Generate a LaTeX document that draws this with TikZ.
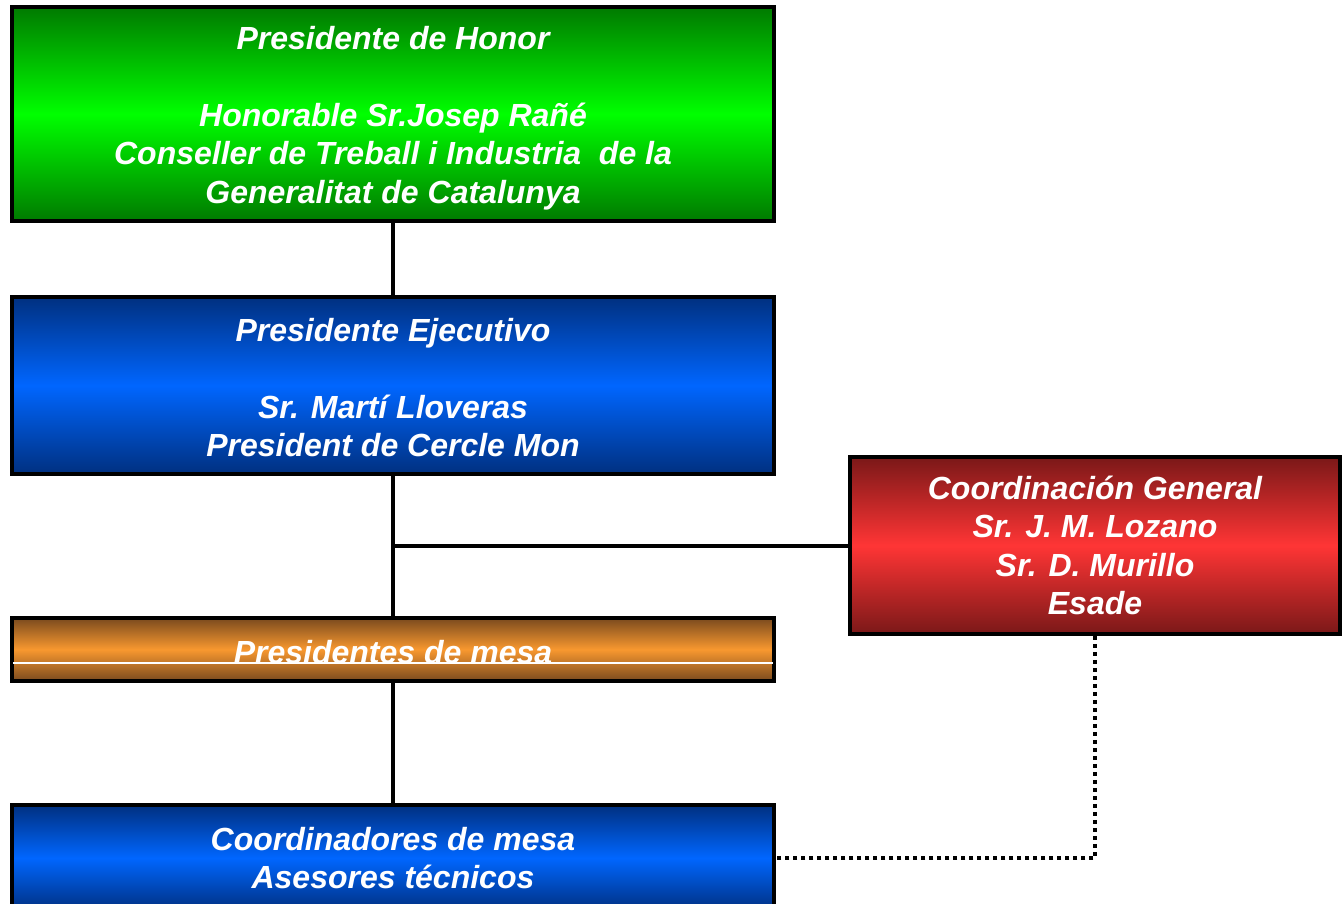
\documentclass[tikz,border=0pt]{standalone}
\usepackage{fontspec}
\setmainfont{Liberation Sans}
\definecolor{gdark}{HTML}{007A00}
\definecolor{gmid}{HTML}{00FF00}
\definecolor{bdark}{HTML}{003080}
\definecolor{bmid}{HTML}{0066FF}
\definecolor{odark}{HTML}{7A4A1E}
\definecolor{omid}{HTML}{F8982F}
\definecolor{rdark}{HTML}{7A1818}
\definecolor{rmid}{HTML}{FF3535}
\begin{document}
\begin{tikzpicture}[x=1pt,y=-1pt,
  box/.style={draw=black, line width=3.5pt, rectangle, minimum width=762pt,
    text=white, align=center, inner sep=0pt,
    font=\fontsize{32}{38.5}\selectfont\bfseries\itshape},
  greenbox/.style={box, top color=gdark, bottom color=gdark, middle color=gmid},
  bluebox/.style={box, top color=bdark, bottom color=bdark, middle color=bmid},
  orangebox/.style={box, top color=odark, bottom color=odark, middle color=omid},
  redbox/.style={box, top color=rdark, bottom color=rdark, middle color=rmid},
  conn/.style={line width=4pt, black},
  dotconn/.style={line width=4.5pt, black, dash pattern=on 4pt off 4pt}]
\useasboundingbox (0,0) rectangle (1343,904);
\node[greenbox, minimum height=214pt] (g) at (393,114)
  {\rule{0pt}{31.5pt}Presidente de Honor\\[38.5pt]Honorable Sr.Josep Rañé\\Conseller de Treball i Industria\ \ de la\\Generalitat de Catalunya};
\node[bluebox, minimum height=177pt] (b1) at (393,385.5)
  {\rule{0pt}{27.5pt}Presidente Ejecutivo\\[38.5pt]Sr. Martí Lloveras\\President de Cercle Mon};
\node[orangebox, minimum height=63pt] (o) at (393,649.5) {\rule{0pt}{27.5pt}Presidentes de mesa};
\draw[white, line width=1.3pt] ([xshift=3pt,yshift=-13.5pt]o.west) -- ([xshift=-3pt,yshift=-13.5pt]o.east);
\node[bluebox, minimum height=106pt] (b2) at (393,858)
  {Coordinadores de mesa\\Asesores técnicos};
\node[redbox, minimum width=490pt, minimum height=177pt] (r) at (1095,545.5)
  {Coordinación General\\Sr. J. M. Lozano\\Sr. D. Murillo\\Esade};
\coordinate (j) at (b1.south |- r.west);
\draw[conn] (g.south) -- (b1.north);
\draw[conn] (b1.south) -- (o.north);
\draw[conn] (j) -- (r.west);
\draw[conn] (o.south) -- (b2.north);
\draw[dotconn] (r.south) |- (b2.east);
\end{tikzpicture}
\end{document}
